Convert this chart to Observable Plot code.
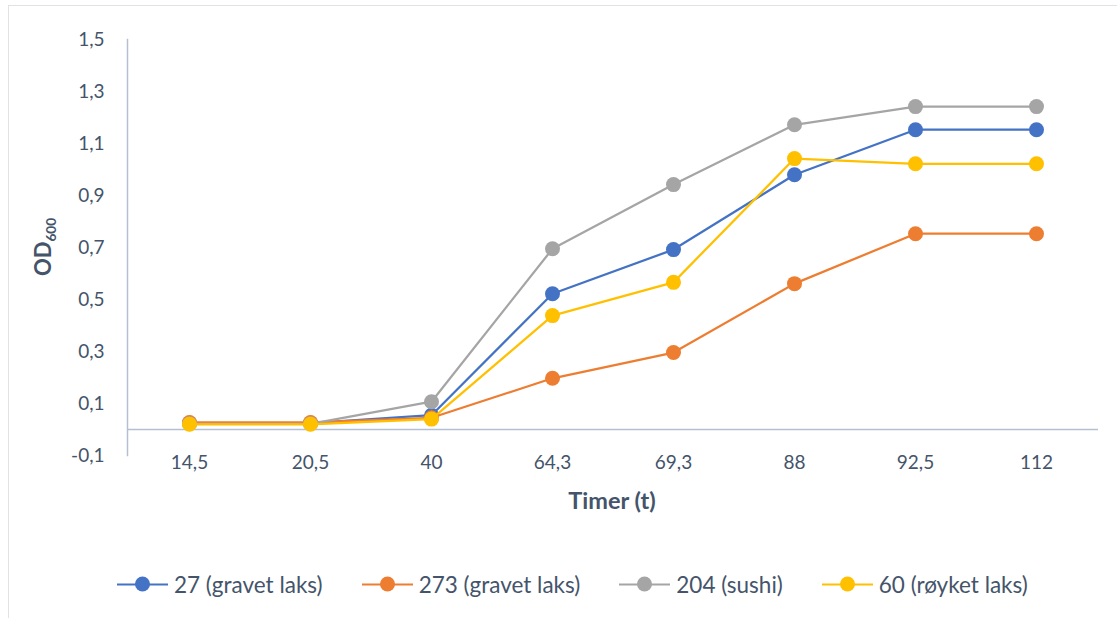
<!DOCTYPE html>
<html><head><meta charset="utf-8">
<script src="https://cdn.jsdelivr.net/npm/d3@7"></script>
<script src="https://cdn.jsdelivr.net/npm/@observablehq/plot@0.6"></script>
<style>
body{margin:0;background:#fff;font-family:Lato,"Open Sans",sans-serif;}
#wrap{position:relative;width:1117px;height:618px;overflow:hidden;background:#fff;}
#border{position:absolute;left:8px;top:5px;width:1200px;height:700px;border:1.5px solid #dfe3e8;}
#chart{position:absolute;left:0;top:0;}
#ylab{position:absolute;left:44px;top:247px;transform:translate(-50%,-50%) rotate(-90deg);font-weight:bold;font-size:22px;color:#44546a;white-space:nowrap;}
#ylab sub{font-size:0.62em;vertical-align:-0.3em;}
#xlab{position:absolute;left:612px;top:500px;transform:translate(-50%,-50%);font-weight:bold;font-size:23.5px;color:#44546a;white-space:nowrap;}
#legend{position:absolute;left:117px;top:584px;transform:translateY(-50%);display:flex;gap:39px;font-size:22.5px;color:#44546a;white-space:nowrap;}
.item{display:flex;align-items:center;}
.sw{position:relative;width:51px;height:16px;margin-right:6px;}
.sw .ln{position:absolute;left:0;right:0;top:7px;height:2px;}
.sw .mk{position:absolute;left:18px;top:0.5px;width:15px;height:15px;border-radius:50%;}
</style>
</head><body>
<div id="wrap">
  <div id="border"></div>
  <div id="chart"></div>
  <div id="ylab">OD<sub>600</sub></div>
  <div id="xlab">Timer (t)</div>
  <div id="legend"></div>
</div>
<script>
const times = ["14,5","20,5","40","64,3","69,3","88","92,5","112"];
const seriesNames = ["27 (gravet laks)","273 (gravet laks)","204 (sushi)","60 (røyket laks)"];
const seriesColors = ["#4472c4","#ed7d31","#a5a5a5","#ffc000"];
const s27  = [0.025, 0.025, 0.055, 0.522, 0.692, 0.980, 1.153, 1.153];
const s273 = [0.027, 0.027, 0.045, 0.197, 0.296, 0.561, 0.753, 0.753];
const s204 = [0.022, 0.022, 0.107, 0.695, 0.942, 1.172, 1.242, 1.242];
const s60  = [0.020, 0.020, 0.040, 0.438, 0.566, 1.042, 1.022, 1.022];
const yTicks = [-0.1, 0.1, 0.3, 0.5, 0.7, 0.9, 1.1, 1.3, 1.5];

const seriesValues = [s27, s273, s204, s60];
const rows = [];
seriesNames.forEach((name, i) => {
  times.forEach((t, j) => rows.push({series: name, time: t, value: seriesValues[i][j]}));
});

const axisColor = "#b4c0d0";
const seriesMarks = [];
seriesNames.forEach((name, i) => {
  seriesMarks.push(Plot.line(rows, {filter: d => d.series === name, x: "time", y: "value", stroke: seriesColors[i], strokeWidth: 2.25}));
  seriesMarks.push(Plot.dot(rows, {filter: d => d.series === name, x: "time", y: "value", fill: seriesColors[i], r: 7.5, stroke: "none"}));
});

const chart = Plot.plot({
  width: 1117, height: 530,
  marginLeft: 127, marginRight: 19, marginTop: 39, marginBottom: 75,
  style: {fontFamily: "Lato, 'Open Sans', sans-serif", fontSize: "19px", color: "#44546a", background: "transparent", overflow: "visible"},
  x: {type: "point", domain: times, padding: 0.5},
  y: {domain: [-0.1, 1.5]},
  marks: [
    Plot.frame({anchor: "left", stroke: axisColor, strokeWidth: 1.5}),
    Plot.ruleY([0], {stroke: axisColor, strokeWidth: 1.5}),
    Plot.axisY({ticks: yTicks, tickSize: 0, tickPadding: 23, tickFormat: d => d.toFixed(1).replace(".", ","), label: null}),
    Plot.axisX({tickSize: 0, tickPadding: 0, label: null}),
    ...seriesMarks
  ]
});
document.getElementById("chart").appendChild(chart);

const legend = document.getElementById("legend");
seriesNames.forEach((name, i) => {
  const it = document.createElement("div");
  it.className = "item";
  it.innerHTML = `<div class="sw"><div class="ln" style="background:${seriesColors[i]}"></div><div class="mk" style="background:${seriesColors[i]}"></div></div><span>${name}</span>`;
  legend.appendChild(it);
});
</script>
</body></html>
